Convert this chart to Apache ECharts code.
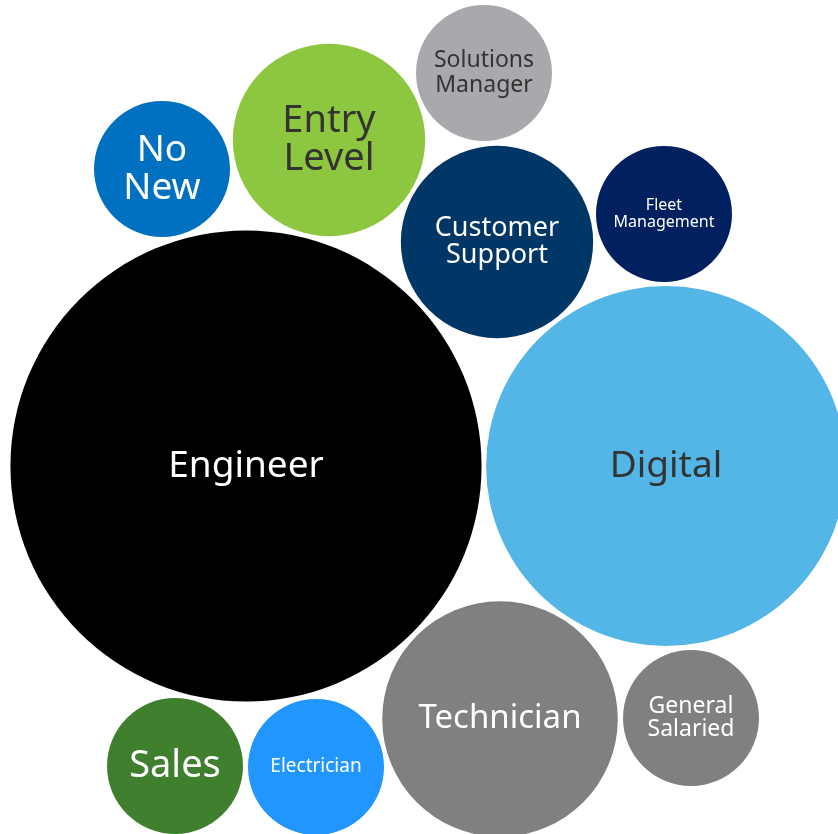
<!DOCTYPE html>
<html>
<head>
<meta charset="utf-8">
<script src="https://cdn.jsdelivr.net/npm/echarts@6/dist/echarts.min.js"></script>
<style>
  html, body { margin: 0; padding: 0; background: #fff; }
  #chart { width: 838px; height: 834px; }
</style>
</head>
<body>
<div id="chart"></div>
<script>
// bubble chart - job categories
let categories = ["Engineer", "Digital", "Technician", "General\nSalaried", "Sales", "Electrician",
                  "No\nNew", "Entry\nLevel", "Solutions\nManager", "Customer\nSupport", "Fleet\nManagement"];
// relative size of each bubble (area)
let sizes = [12, 7, 3, 1, 1, 1, 1, 2, 1, 2, 1];
// bubble placement
let posX = [246, 666, 500, 691, 175, 316, 162, 329, 484, 497, 664];
let posY = [466, 466, 719, 718, 766, 767, 169, 140, 73, 242, 214];

let colors = ["#000000", "#54B6E6", "#808080", "#808080", "#3F7F2D", "#2196FF",
              "#0070C0", "#8DC63F", "#A7A9AC", "#003767", "#002060"];
let textColors = ["#fff", "#333", "#fff", "#fff", "#fff", "#fff", "#fff", "#333", "#333", "#fff", "#fff"];
let fontSizes = [37, 37, 33, 23, 38, 19, 37, 38, 23, 27, 16];
let lineHeights = [40, 40, 36, 23, 40, 20, 38, 38, 25, 27, 17];

let myChart = echarts.init(document.getElementById("chart"));

let points = categories.map(function (name, i) {
  return {
    name: name,
    value: [posX[i], posY[i], sizes[i]],
    itemStyle: { color: colors[i] },
    label: {
      color: textColors[i],
      fontSize: fontSizes[i],
      lineHeight: lineHeights[i]
    }
  };
});

let option = {
  animation: false,
  grid: { left: 0, right: 0, top: 0, bottom: 0 },
  xAxis: { type: "value", min: 0, max: 838, show: false },
  yAxis: { type: "value", min: 0, max: 834, inverse: true, show: false },
  series: [
    {
      type: "scatter",
      clip: false,
      symbolSize: function (val) {
        return Math.sqrt(val[2]) * 136;
      },
      label: {
        show: true,
        position: "inside",
        fontFamily: "Noto Sans",
        formatter: "{b}"
      },
      itemStyle: { opacity: 1 },
      emphasis: { disabled: true },
      data: points
    }
  ]
};

myChart.setOption(option);
</script>
</body>
</html>
